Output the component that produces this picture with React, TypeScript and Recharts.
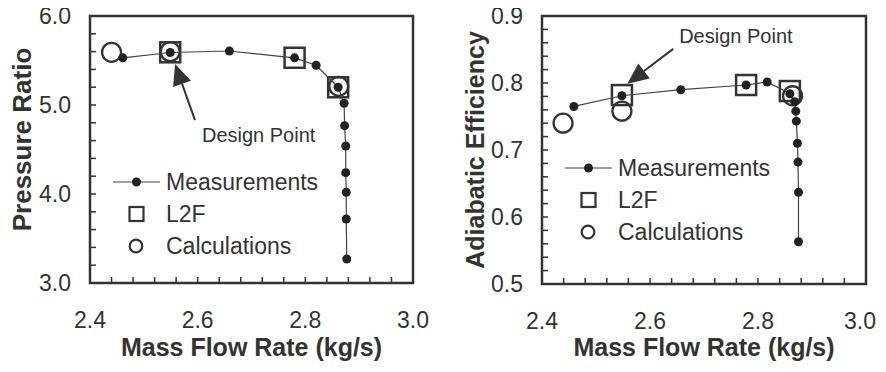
import React from 'react';
import {
  ScatterChart,
  Scatter,
  XAxis,
  YAxis,
  Legend,
  ReferenceArea,
  ReferenceLine,
  ReferenceDot,
} from 'recharts';

// mass flow (kg/s) vs pressure ratio
const prMeasMass = [2.461, 2.549, 2.659, 2.78, 2.82, 2.861, 2.872, 2.873, 2.875, 2.875, 2.876, 2.876, 2.877];
const prMeas = [5.53, 5.59, 5.607, 5.53, 5.446, 5.2, 5.02, 4.768, 4.539, 4.24, 4.019, 3.719, 3.27];
const prL2fMass = [2.549, 2.78, 2.861];
const prL2f = [5.592, 5.531, 5.199];
const prCalcMass = [2.44, 2.549, 2.862];
const prCalc = [5.592, 5.6, 5.21];

// mass flow vs adiabatic efficiency
const effMeasMass = [2.459, 2.548, 2.657, 2.778, 2.817, 2.859, 2.868, 2.87, 2.871, 2.873, 2.874, 2.875, 2.875];
const effMeas = [0.765, 0.781, 0.79, 0.797, 0.8015, 0.784, 0.772, 0.758, 0.743, 0.71, 0.682, 0.637, 0.563];
const effL2fMass = [2.548, 2.778, 2.859];
const effL2f = [0.782, 0.797, 0.788];
const effCalcMass = [2.439, 2.548, 2.864];
const effCalc = [0.74, 0.758, 0.781];

const massTicks = [2.4, 2.44, 2.48, 2.52, 2.56, 2.6, 2.64, 2.68, 2.72, 2.76, 2.8, 2.84, 2.88, 2.92, 2.96, 3.0];
const prTicks = [3.0, 3.2, 3.4, 3.6, 3.8, 4.0, 4.2, 4.4, 4.6, 4.8, 5.0, 5.2, 5.4, 5.6, 5.8, 6.0];
const effTicks = [0.5, 0.52, 0.54, 0.56, 0.58, 0.6, 0.62, 0.64, 0.66, 0.68, 0.7, 0.72, 0.74, 0.76, 0.78, 0.8,
  0.82, 0.84, 0.86, 0.88, 0.9];

const seriesNames = ['Measurements', 'L2F', 'Calculations'];

const INK = '#333';
const FONT = '"Liberation Sans", Arial, sans-serif';

const zip = (xs: number[], ys: number[]) => xs.map((x, i) => ({ x, y: ys[i] }));

const isStep = (v: number, step: number) => Math.abs(v / step - Math.round(v / step)) < 1e-6;

// lastShift nudges the 3.0 label in from the page edge
const makeXTick = (lastShift: number) => ({ x, y, payload }: any) => {
  const v = payload.value;
  const shift = v >= 3 ? lastShift : 0;
  return (
    <g>
      <line x1={x} x2={x} y1={y} y2={y - 6} stroke={INK} strokeWidth={1.5} />
      {isStep(v, 0.2) && (
        <text x={x + shift} y={y + 45} textAnchor="middle" fontSize={23} fill={INK}>
          {v.toFixed(1)}
        </text>
      )}
    </g>
  );
};

const makeYTick = (step: number) => ({ x, y, payload }: any) => {
  const v = payload.value;
  return (
    <g>
      <line x1={x} x2={x + 6} y1={y} y2={y} stroke={INK} strokeWidth={1.5} />
      {isStep(v, step) && (
        <text x={x - 19} y={y + 8} textAnchor="end" fontSize={23} fill={INK}>
          {v.toFixed(1)}
        </text>
      )}
    </g>
  );
};

const Dot = ({ cx, cy }: any) => <circle cx={cx} cy={cy} r={4.5} fill="#222" />;
const Square = ({ cx, cy }: any) => (
  <rect x={cx - 10} y={cy - 10} width={20} height={20} fill="none" stroke={INK} strokeWidth={2.5} />
);
const Ring = ({ cx, cy }: any) => <circle cx={cx} cy={cy} r={9.5} fill="none" stroke={INK} strokeWidth={2.3} />;

const Arrow = ({ x1, y1, x2, y2 }: any) => {
  const dx = x2 - x1;
  const dy = y2 - y1;
  const len = Math.sqrt(dx * dx + dy * dy);
  const ux = dx / len;
  const uy = dy / len;
  const bx = x2 - ux * 21;
  const by = y2 - uy * 21;
  const px = -uy * 9.5;
  const py = ux * 9.5;
  return (
    <g>
      <line x1={x1} y1={y1} x2={bx} y2={by} stroke={INK} strokeWidth={2} />
      <polygon points={`${x2},${y2} ${bx + px},${by + py} ${bx - px},${by - py}`} fill={INK} />
    </g>
  );
};

const LegendBox = ({ payload }: any) => {
  const items = seriesNames.filter((n) => (payload || []).some((p: any) => p.value === n));
  return (
    <div style={{ fontFamily: FONT }}>
      {items.map((name) => (
        <div key={name} style={{ display: 'flex', alignItems: 'center', height: 32 }}>
          <svg width={52} height={32}>
            {name === 'Measurements' && (
              <g>
                <line x1={0} x2={47} y1={16} y2={16} stroke="#444" strokeWidth={1.2} />
                <circle cx={23.5} cy={16} r={4.5} fill="#222" />
              </g>
            )}
            {name === 'L2F' && (
              <rect x={16.5} y={9} width={14} height={14} fill="none" stroke={INK} strokeWidth={2.2} />
            )}
            {name === 'Calculations' && (
              <circle cx={23} cy={16} r={6.3} fill="none" stroke={INK} strokeWidth={2.2} />
            )}
          </svg>
          <span style={{ fontSize: 23, color: INK, marginLeft: 1, lineHeight: '32px' }}>{name}</span>
        </div>
      ))}
    </div>
  );
};

type PanelProps = {
  left: number;
  margin: { top: number; right: number; bottom: number; left: number };
  yWidth: number;
  xHeight: number;
  xLastShift: number;
  yDomain: [number, number];
  yTicks: number[];
  yStep: number;
  yTitle: string;
  yTitleSize: number;
  yTitleOffset: number;
  yTitleDy: number;
  meas: { x: number; y: number }[];
  l2f: { x: number; y: number }[];
  calc: { x: number; y: number }[];
  arrow: [{ x: number; y: number }, { x: number; y: number }];
  note: { x: number; y: number };
  legendPos: { left: number; top: number };
};

const Panel = (p: PanelProps) => (
  <div style={{ position: 'absolute', left: p.left, top: 0 }}>
    <ScatterChart width={443} height={372} margin={p.margin} style={{ overflow: 'visible' }}>
      <XAxis
        type="number"
        dataKey="x"
        domain={[2.4, 3.0]}
        ticks={massTicks}
        interval={0}
        height={p.xHeight}
        tickSize={0}
        tickMargin={0}
        axisLine={false}
        tickLine={false}
        tick={makeXTick(p.xLastShift)}
        label={{
          value: 'Mass Flow Rate (kg/s)',
          position: 'insideBottom',
          offset: 16,
          style: { fontSize: 25, fontWeight: 700, fill: INK },
        }}
      />
      <YAxis
        type="number"
        dataKey="y"
        domain={p.yDomain}
        ticks={p.yTicks}
        interval={0}
        width={p.yWidth}
        tickSize={0}
        tickMargin={0}
        axisLine={false}
        tickLine={false}
        tick={makeYTick(p.yStep)}
        label={{
          value: p.yTitle,
          angle: -90,
          position: 'insideLeft',
          offset: p.yTitleOffset,
          dy: p.yTitleDy,
          style: { fontSize: p.yTitleSize, fontWeight: 700, fill: INK, textAnchor: 'middle' },
        }}
      />
      <ReferenceArea
        x1={2.4}
        x2={3.0}
        y1={p.yDomain[0]}
        y2={p.yDomain[1]}
        fill="none"
        fillOpacity={0}
        stroke={INK}
        strokeWidth={2.5}
      />
      <Scatter name="L2F" data={p.l2f} shape={<Square />} isAnimationActive={false} />
      <Scatter name="Calculations" data={p.calc} shape={<Ring />} isAnimationActive={false} />
      <Scatter
        name="Measurements"
        data={p.meas}
        shape={<Dot />}
        line={{ stroke: '#444', strokeWidth: 1.2 }}
        lineType="joint"
        isAnimationActive={false}
      />
      <ReferenceLine segment={p.arrow} shape={<Arrow />} />
      <ReferenceDot
        x={p.note.x}
        y={p.note.y}
        r={0}
        fill="none"
        stroke="none"
        label={{ value: 'Design Point', position: 'right', offset: 0, style: { fontSize: 20, fill: INK } }}
      />
      <Legend
        layout="vertical"
        align="center"
        verticalAlign="middle"
        content={<LegendBox />}
        wrapperStyle={{ position: 'absolute', left: p.legendPos.left, top: p.legendPos.top, width: 240 }}
      />
    </ScatterChart>
  </div>
);

export default function App() {
  return (
    <div style={{ position: 'relative', width: 886, height: 372, margin: -8, fontFamily: FONT, background: '#fff' }}>
      <Panel
        left={0}
        margin={{ top: 16, right: 30, bottom: 0, left: 0 }}
        yWidth={90}
        xHeight={89}
        xLastShift={0}
        yDomain={[3, 6]}
        yTicks={prTicks}
        yStep={1}
        yTitle="Pressure Ratio"
        yTitleSize={26}
        yTitleOffset={22}
        yTitleDy={-10}
        meas={zip(prMeasMass, prMeas)}
        l2f={zip(prL2fMass, prL2f)}
        calc={zip(prCalcMass, prCalc)}
        arrow={[{ x: 2.595, y: 4.83 }, { x: 2.558, y: 5.46 }]}
        note={{ x: 2.608, y: 4.666 }}
        legendPos={{ left: 113, top: 166 }}
      />
      <Panel
        left={443}
        margin={{ top: 16, right: 20, bottom: 0, left: 0 }}
        yWidth={99}
        xHeight={88}
        xLastShift={-6}
        yDomain={[0.5, 0.9]}
        yTicks={effTicks}
        yStep={0.1}
        yTitle="Adiabatic Efficiency"
        yTitleSize={25}
        yTitleOffset={32}
        yTitleDy={0}
        meas={zip(effMeasMass, effMeas)}
        l2f={zip(effL2fMass, effL2f)}
        calc={zip(effCalcMass, effCalc)}
        arrow={[{ x: 2.643, y: 0.851 }, { x: 2.558, y: 0.799 }]}
        note={{ x: 2.654, y: 0.87 }}
        legendPos={{ left: 122, top: 152 }}
      />
    </div>
  );
}
